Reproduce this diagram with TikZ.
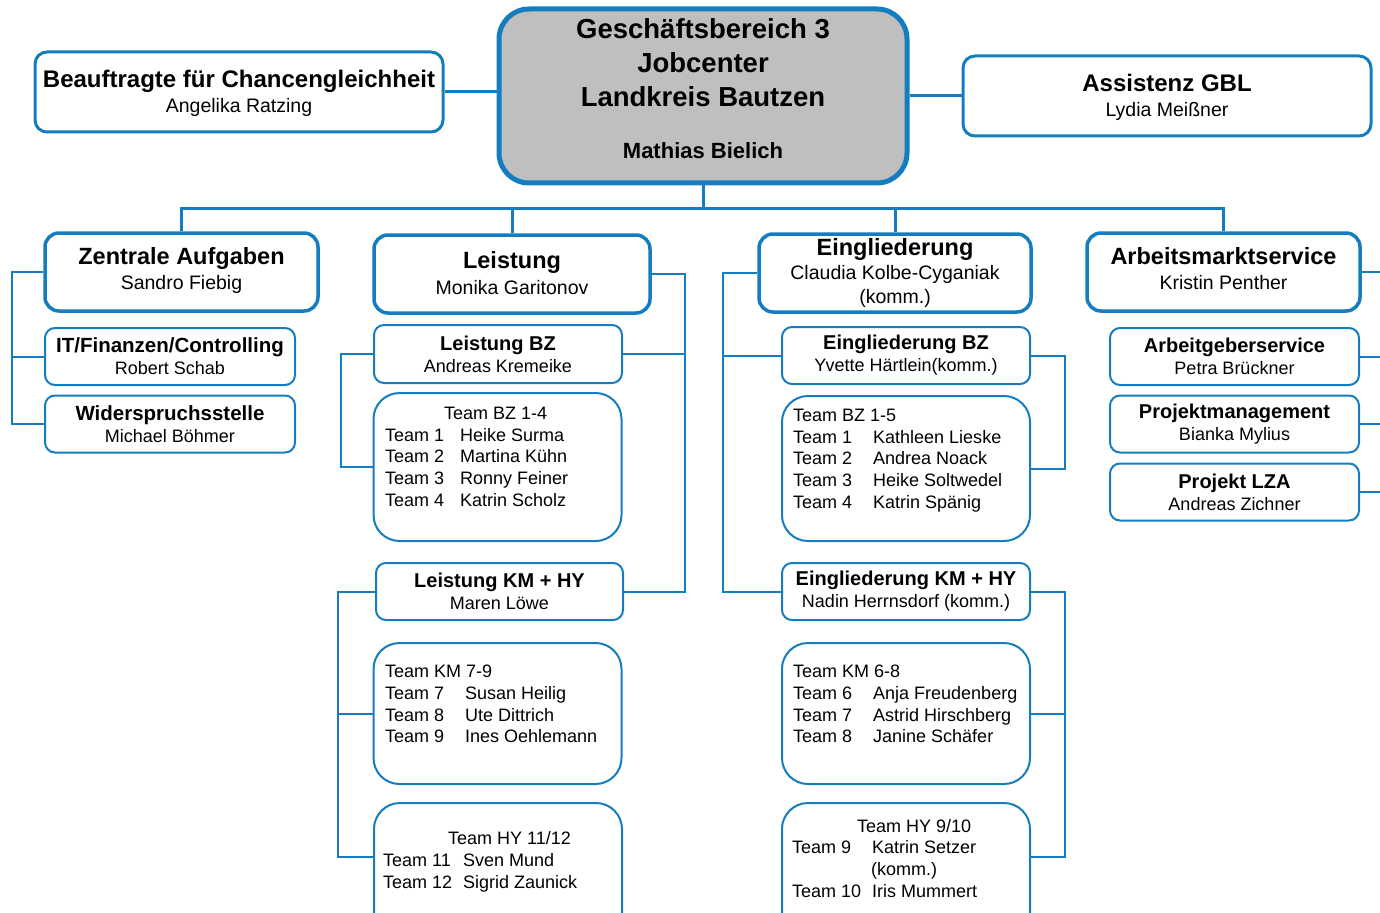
\documentclass[tikz,border=0pt]{standalone}
\usepackage{fontspec}
\setmainfont{Liberation Sans}
\usepackage{tikz}
\definecolor{jcblue}{RGB}{20,125,192}
\definecolor{jcgray}{RGB}{191,191,191}
\newcommand{\teamline}[3][80pt]{\makebox[#1][l]{#2}#3}

\begin{document}
\begin{tikzpicture}
		[x=1pt,y=-1pt,
		headbox/.style= {draw=jcblue,line width=5pt,fill=jcgray,rounded corners=30pt,minimum width=408pt,minimum height=174pt,inner sep=0pt,align=center,font=\fontsize{27.5}{34}\selectfont\bfseries},
		staffbox/.style= {draw=jcblue,line width=3pt,rounded corners=12pt,minimum width=408pt,minimum height=80pt,inner sep=0pt,align=center,font=\fontsize{19.5}{25}\selectfont},
		areabox/.style= {draw=jcblue,line width=3.5pt,rounded corners=14pt,minimum height=78pt,inner sep=0pt,align=center,font=\fontsize{19.5}{25.5}\selectfont},
		unitbox/.style= {draw=jcblue,line width=2pt,rounded corners=10pt,minimum width=249pt,minimum height=57pt,inner sep=0pt,align=center,font=\fontsize{18}{22}\selectfont},
		teambox/.style= {draw=jcblue,line width=2pt,rounded corners=26pt,minimum width=248pt},
		teamlist/.style= {anchor=north west,inner sep=0pt,align=left,font=\fontsize{18}{21.7}\selectfont},
		link/.style= {draw=jcblue,line width=3pt},
		sublink/.style= {draw=jcblue,line width=2pt}]
		
		\useasboundingbox (0,0) rectangle (1380,912);
		
		% Leitung
		\node[headbox] (gb) at (703,96) {Geschäftsbereich 3\\Jobcenter\\Landkreis Bautzen\\[18pt]{\fontsize{22}{26}\selectfont Mathias Bielich\rule[-14pt]{0pt}{14pt}}};
		\node[staffbox] (beauftr) at (239,92) {{\fontsize{24}{25}\selectfont\bfseries\rule{0pt}{24.5pt}Beauftragte für Chancengleichheit}\\\strut Angelika Ratzing};
		\node[staffbox] (assist) at (1167,96) {{\fontsize{24}{25}\selectfont\bfseries\rule{0pt}{24.5pt}Assistenz GBL}\\\strut Lydia Meißner};
		
		% Bereiche
		\node[areabox,minimum width=273pt] (zentral) at (181.5,272) {{\fontsize{23.5}{25.5}\selectfont\bfseries\strut Zentrale Aufgaben}\\\strut Sandro Fiebig};
		\node[areabox,minimum width=276pt] (leist) at (512,274) {{\fontsize{23.5}{25.5}\selectfont\bfseries\rule{0pt}{23pt}Leistung}\\\strut Monika Garitonov};
		\node[areabox,minimum width=272pt,font=\fontsize{19.5}{24}\selectfont] (eingl) at (895,273) {{\fontsize{23.5}{24}\selectfont\bfseries Eingliederung}\\Claudia Kolbe-Cyganiak\\(komm.)};
		\node[areabox,minimum width=273pt] (ams) at (1223.5,272) {{\fontsize{23.5}{25.5}\selectfont\bfseries\strut Arbeitsmarktservice}\\\strut Kristin Penther};
		
		% Zentrale Aufgaben
		\node[unitbox,minimum width=250pt] (itfin) at (170,356.5) {{\fontsize{20.5}{22}\selectfont\bfseries IT/Finanzen/Controlling}\\Robert Schab};
		\node[unitbox,minimum width=250pt] (widerspr) at (170,424) {{\fontsize{20.5}{22}\selectfont\bfseries Widerspruchsstelle}\\Michael Böhmer};
		
		% Leistung
		\node[unitbox,minimum width=248pt,minimum height=58pt] (leistbz) at (498,354) {{\fontsize{20}{22}\selectfont\bfseries Leistung BZ}\\Andreas Kremeike};
		\node[teambox,minimum height=148pt] (teambz) at (497.5,467) {};
		\node[teamlist] (teambzt) at (385,407) {\hspace{59pt}Team BZ 1-4\\\teamline[75pt]{Team 1}{Heike Surma}\\\teamline[75pt]{Team 2}{Martina Kühn}\\\teamline[75pt]{Team 3}{Ronny Feiner}\\\teamline[75pt]{Team 4}{Katrin Scholz}};
		\node[unitbox,minimum width=247pt] (leistkm) at (499.5,591.5) {{\fontsize{20}{22}\selectfont\bfseries Leistung KM + HY}\\Maren Löwe};
		\node[teambox,minimum height=141pt] (teamkm) at (497.5,713.5) {};
		\node[teamlist] (teamkmt) at (385,665) {Team KM 7-9\\\teamline{Team 7}{Susan Heilig}\\\teamline{Team 8}{Ute Dittrich}\\\teamline{Team 9}{Ines Oehlemann}};
		\node[teambox,minimum height=140pt] (teamhy) at (498,873) {};
		\coordinate (teamhyin) at ([yshift=-55pt]teamhy.north west);
		\node[teamlist,font=\fontsize{18}{22}\selectfont] (teamhyt) at (383,831) {\hspace{65pt}Team HY 11/12\\\teamline{Team 11}{Sven Mund}\\\teamline{Team 12}{Sigrid Zaunick}};
		
		% Eingliederung
		\node[unitbox,minimum width=248pt] (einglbz) at (906,355.5) {{\fontsize{20}{22}\selectfont\bfseries Eingliederung BZ}\\Yvette Härtlein(komm.)};
		\node[teambox,minimum height=145pt] (teambzf) at (906,468.5) {};
		\node[teamlist] (teambzft) at (793,409) {Team BZ 1-5\\\teamline{Team 1}{Kathleen Lieske}\\\teamline{Team 2}{Andrea Noack}\\\teamline{Team 3}{Heike Soltwedel}\\\teamline{Team 4}{Katrin Spänig}};
		\node[unitbox,minimum width=248pt] (einglkm) at (906,591.5) {{\fontsize{20}{22}\selectfont\bfseries Eingliederung KM + HY}\\Nadin Herrnsdorf (komm.)};
		\node[teambox,minimum height=141pt] (teamkmf) at (906,713.5) {};
		\node[teamlist] (teamkmft) at (793,665) {Team KM 6-8\\\teamline{Team 6}{Anja Freudenberg}\\\teamline{Team 7}{Astrid Hirschberg}\\\teamline{Team 8}{Janine Schäfer}};
		\node[teambox,minimum height=140pt] (teamhyf) at (906,873) {};
		\coordinate (teamhyfin) at ([yshift=-55pt]teamhyf.north east);
		\node[teamlist] (teamhyft) at (792,819) {\hspace{65pt}Team HY 9/10\\\teamline{Team 9}{Katrin Setzer}\\\hspace{79pt}(komm.)\\\teamline{Team 10}{Iris Mummert}};
		
		% Arbeitsmarktservice
		\node[unitbox] (agservice) at (1234.5,356.5) {{\fontsize{20}{22}\selectfont\bfseries Arbeitgeberservice}\\Petra Brückner};
		\node[unitbox] (projmgmt) at (1234.5,424) {{\fontsize{20}{22}\selectfont\bfseries Projektmanagement}\\Bianka Mylius};
		\node[unitbox] (projlza) at (1234.5,492) {{\fontsize{20}{22}\selectfont\bfseries Projekt LZA}\\Andreas Zichner};
		
		% Verbindungen
		\coordinate (gbbus) at (703,208);
		\coordinate (zabus) at (12,0);
		\coordinate (lebus) at (685,0);
		\coordinate (lbzbus) at (341,0);
		\coordinate (lkmbus) at (338,0);
		\coordinate (eibus) at (723,0);
		\coordinate (ebzbus) at (1065,0);
		\coordinate (ekmbus) at (1065,0);
		\coordinate (amsbus) at (1392,0);
		
		\draw[link] (beauftr.east) -- (beauftr.east -| gb.west);
		\draw[link] (gb.east |- assist.west) -- (assist.west);
		\draw[link] (gb.south) -- (gbbus);
		\draw[link] (zentral.north) |- (gbbus) -| (ams.north);
		\draw[link] (leist.north) -- (leist.north |- gbbus);
		\draw[link] (eingl.north) -- (eingl.north |- gbbus);
		
		\draw[sublink] (zentral.west) -| (zabus |- widerspr.west) -- (widerspr.west);
		\draw[sublink] (itfin.west) -- (zabus |- itfin.west);
		
		\draw[sublink] (leist.east) -| (lebus |- leistkm.east) -- (leistkm.east);
		\draw[sublink] (leistbz.east) -- (lebus |- leistbz.east);
		\draw[sublink] (leistbz.west) -| (lbzbus |- teambz.west) -- (teambz.west);
		\draw[sublink] (leistkm.west) -| (lkmbus |- teamhyin) -- (teamhyin);
		\draw[sublink] (teamkm.west) -- (lkmbus |- teamkm.west);
		
		\draw[sublink] (eingl.west) -| (eibus |- einglkm.west) -- (einglkm.west);
		\draw[sublink] (einglbz.west) -- (eibus |- einglbz.west);
		\draw[sublink] (einglbz.east) -| (ebzbus |- teambzf.east) -- (teambzf.east);
		\draw[sublink] (einglkm.east) -| (ekmbus |- teamhyfin) -- (teamhyfin);
		\draw[sublink] (teamkmf.east) -- (ekmbus |- teamkmf.east);
		
		\draw[sublink] (ams.east) -| (amsbus |- projlza.east) -- (projlza.east);
		\draw[sublink] (agservice.east) -- (amsbus |- agservice.east);
		\draw[sublink] (projmgmt.east) -- (amsbus |- projmgmt.east);
		
	\end{tikzpicture}
\end{document}
